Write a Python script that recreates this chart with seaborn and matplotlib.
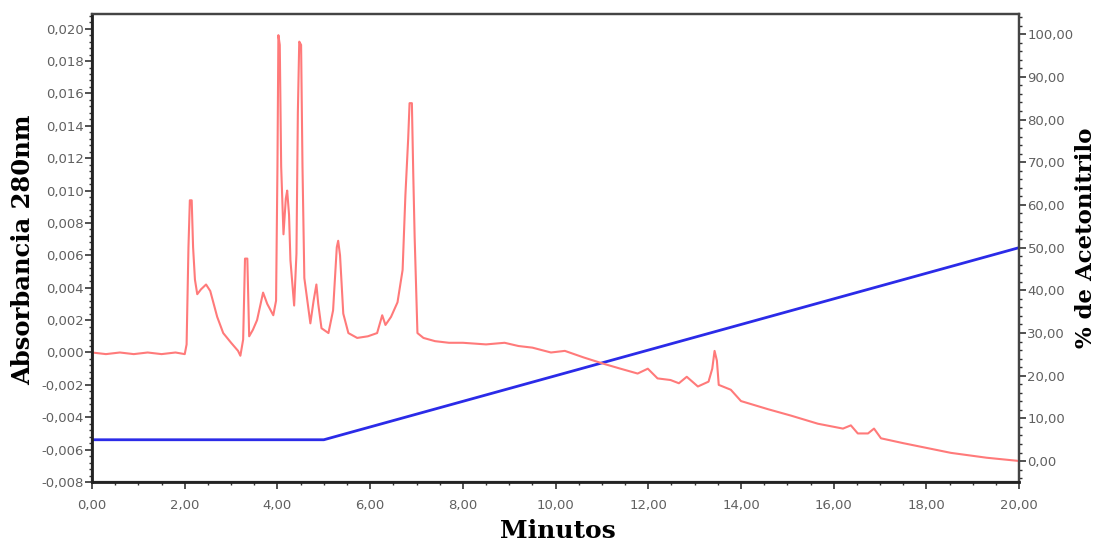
#!/usr/bin/env python3
# coding: utf-8

import numpy as np
import pandas as pd
import matplotlib
matplotlib.use("Agg")
import matplotlib.pyplot as plt
from matplotlib.ticker import MultipleLocator, FuncFormatter
import seaborn as sns

# chromatogram (absorbance at 280 nm)
minutes = [
    0.0, 0.3, 0.6, 0.9, 1.2, 1.5, 1.8, 2.0, 2.04, 2.08, 2.11, 2.15, 2.18, 2.22,
    2.27, 2.35, 2.46, 2.55, 2.7, 2.83, 3.0, 3.15, 3.2, 3.26, 3.3, 3.35, 3.39,
    3.47, 3.56, 3.69, 3.78, 3.91, 3.97, 4.0, 4.02, 4.05, 4.08, 4.13, 4.18, 4.21,
    4.25, 4.28, 4.36, 4.41, 4.44, 4.47, 4.51, 4.54, 4.58, 4.71, 4.78, 4.84,
    4.88, 4.95, 5.1, 5.2, 5.28, 5.31, 5.35, 5.42, 5.53, 5.72, 5.95, 6.15, 6.26,
    6.33, 6.45, 6.59, 6.7, 6.76, 6.82, 6.85, 6.9, 6.93, 6.96, 7.02, 7.15, 7.4,
    7.7, 8.0, 8.5, 8.9, 9.2, 9.5, 9.9, 10.2, 10.6, 11.04, 11.4, 11.77, 11.99,
    12.2, 12.48, 12.66, 12.83, 13.07, 13.3, 13.38, 13.43, 13.48, 13.52, 13.78,
    14.0, 14.58, 15.08, 15.66, 16.2, 16.37, 16.52, 16.74, 16.87, 17.02, 17.5,
    18.53, 19.3, 20.0,
]
absorbance = [
    0.0000, -0.0001, 0.0000, -0.0001, 0.0000, -0.0001, 0.0000, -0.0001,
    0.0005, 0.0065, 0.0094, 0.0094, 0.0065, 0.0045, 0.0036, 0.0039, 0.0042,
    0.0038, 0.0022, 0.0012, 0.0006, 0.0001, -0.0002, 0.0008, 0.0058, 0.0058,
    0.0010, 0.0014, 0.0020, 0.0037, 0.0030, 0.0023, 0.0032, 0.0115, 0.0196,
    0.0190, 0.0115, 0.0073, 0.0095, 0.0100, 0.0085, 0.0057, 0.0029, 0.0061,
    0.0148, 0.0192, 0.0190, 0.0115, 0.0046, 0.0018, 0.0032, 0.0042, 0.0030,
    0.0015, 0.0012, 0.0026, 0.0065, 0.0069, 0.0060, 0.0024, 0.0012, 0.0009,
    0.0010, 0.0012, 0.0023, 0.0017, 0.0022, 0.0031, 0.0051, 0.0097, 0.0132,
    0.0154, 0.0154, 0.0110, 0.0071, 0.0012, 0.0009, 0.0007, 0.0006, 0.0006,
    0.0005, 0.0006, 0.0004, 0.0003, 0.0000, 0.0001, -0.0003, -0.0007, -0.0010,
    -0.0013, -0.0010, -0.0016, -0.0017, -0.0019, -0.0015, -0.0021, -0.0018,
    -0.0010, 0.0001, -0.0005, -0.0020, -0.0023, -0.0030, -0.0035, -0.0039,
    -0.0044, -0.0047, -0.0045, -0.0050, -0.0050, -0.0047, -0.0053, -0.0056,
    -0.0062, -0.0065, -0.0067,
]

# acetonitrile gradient (%)
grad_minutes = [0.0, 5.0, 20.0]
grad_percent = [5.0, 5.0, 50.0]

red = "#ff7a7a"
blue = "#2b2be8"

sns.set_theme(style="ticks")
plt.rcParams['font.family'] = ['DejaVu Sans']

df = pd.DataFrame({"min": minutes, "abs": absorbance})
grad = pd.DataFrame({"min": grad_minutes, "pct": grad_percent})

fig = plt.figure(figsize=(10.97, 5.43), dpi=100)
ax = fig.add_axes([0.0839, 0.1123, 0.929 - 0.0839, 0.974 - 0.1123])
ax2 = ax.twinx()

sns.lineplot(data=df, x="min", y="abs", ax=ax, color=red, lw=1.5,
             estimator=None, sort=False)
sns.lineplot(data=grad, x="min", y="pct", ax=ax2, color=blue, lw=2.0,
             estimator=None, sort=False)

# red trace drawn above the blue one
ax.set_zorder(ax2.get_zorder() + 1)
ax.patch.set_visible(False)

ax.set_xlim(0, 20)
ax.set_ylim(-0.008, 0.0209)
ax2.set_ylim(-4.9, 104.7)

ax.xaxis.set_major_locator(MultipleLocator(2))
ax.xaxis.set_minor_locator(MultipleLocator(0.5))
ax.yaxis.set_major_locator(MultipleLocator(0.002))
ax.yaxis.set_minor_locator(MultipleLocator(0.0004))
ax2.yaxis.set_major_locator(MultipleLocator(10))
ax2.yaxis.set_minor_locator(MultipleLocator(2))

ax.xaxis.set_major_formatter(FuncFormatter(lambda v, p: f"{v:.2f}".replace(".", ",")))
ax.yaxis.set_major_formatter(FuncFormatter(lambda v, p: f"{v:.3f}".replace(".", ",")))
ax2.yaxis.set_major_formatter(FuncFormatter(lambda v, p: f"{v:.2f}".replace(".", ",")))

for a in (ax, ax2):
    a.tick_params(which="major", length=5, width=1.2, color="#333333",
                  labelsize=9.5, labelcolor="#606060", pad=1)
    a.tick_params(which="minor", length=2.5, width=1.0, color="#333333")
    for s in a.spines.values():
        s.set_color("#444444")
        s.set_linewidth(1.6)
ax.tick_params(axis="x", which="major", pad=7)
ax.spines["left"].set_color("#222222")
ax.spines["bottom"].set_color("#222222")
ax.spines["left"].set_linewidth(2)
ax.spines["bottom"].set_linewidth(2)

ax.set_xlabel("")
ax.set_ylabel("")
ax2.set_ylabel("")

label_font = dict(family="DejaVu Serif", fontweight="bold", color="black")
fig.text(0.021, 0.54, "Absorbancia 280nm", rotation=90, ha="center", va="center",
         fontsize=17.5, **label_font)
fig.text(0.990, 0.562, "% de Acetonitrilo", rotation=90, ha="center", va="center",
         fontsize=16.5, **label_font)
fig.text(0.509, 0.022, "Minutos", ha="center", va="center",
         fontsize=18, **label_font)

fig.savefig("out.png", dpi=100)
